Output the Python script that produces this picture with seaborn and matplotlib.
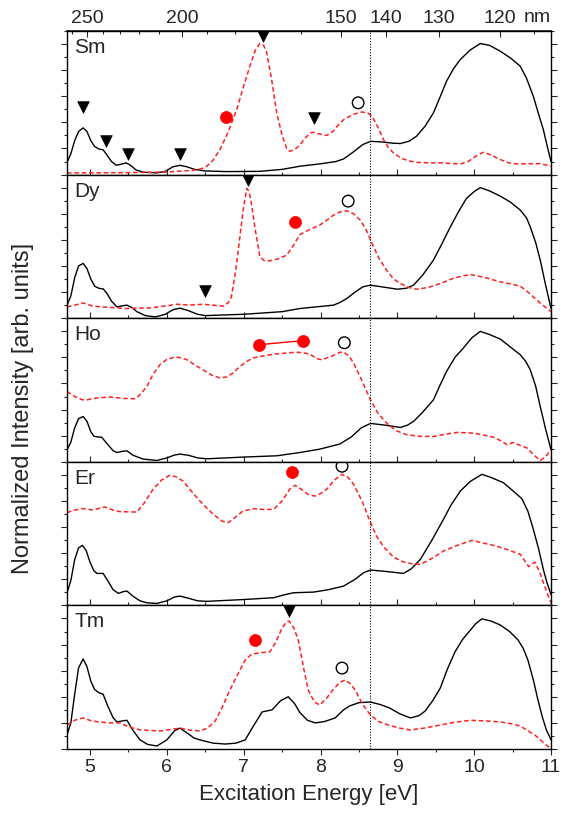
import numpy as np
import pandas as pd
import matplotlib
matplotlib.use("Agg")
import matplotlib.pyplot as plt
import seaborn as sns
from matplotlib.ticker import MultipleLocator, FixedLocator

sns.set_theme(style="ticks")
plt.rcParams['font.family'] = ['Liberation Sans', 'DejaVu Sans']

# ---------------- data ----------------
elements = ["Sm", "Dy", "Ho", "Er", "Tm"]

sm_black_x = [4.70, 4.75, 4.80, 4.85, 4.91, 4.96, 5.01, 5.06, 5.12, 5.17, 5.22, 5.28, 5.34, 5.41, 5.47, 5.53, 5.60, 5.70, 5.87, 5.98, 6.08, 6.17, 6.26, 6.36, 6.50, 6.78, 7.21, 7.50, 7.73, 7.99, 8.20, 8.30, 8.42, 8.55, 8.65, 8.80, 8.95, 9.04, 9.15, 9.25, 9.36, 9.47, 9.56, 9.64, 9.73, 9.82, 9.95, 10.08, 10.20, 10.34, 10.48, 10.60, 10.68, 10.77, 10.84, 10.90, 10.95, 11.00]
sm_black_y = [0.092, 0.160, 0.260, 0.330, 0.358, 0.330, 0.260, 0.215, 0.195, 0.190, 0.150, 0.100, 0.072, 0.080, 0.090, 0.070, 0.035, 0.018, 0.013, 0.025, 0.060, 0.071, 0.060, 0.040, 0.028, 0.023, 0.025, 0.040, 0.064, 0.082, 0.100, 0.120, 0.170, 0.230, 0.255, 0.250, 0.240, 0.238, 0.255, 0.294, 0.370, 0.473, 0.600, 0.715, 0.810, 0.882, 0.955, 1.004, 0.990, 0.945, 0.890, 0.830, 0.740, 0.600, 0.460, 0.345, 0.220, 0.100]
sm_red_x = [4.70, 5.50, 6.00, 6.34, 6.45, 6.52, 6.60, 6.69, 6.80, 6.91, 7.00, 7.08, 7.15, 7.21, 7.26, 7.30, 7.36, 7.43, 7.50, 7.56, 7.60, 7.66, 7.73, 7.80, 7.87, 7.91, 7.99, 8.08, 8.16, 8.23, 8.30, 8.42, 8.54, 8.62, 8.67, 8.75, 8.82, 8.88, 8.95, 9.05, 9.15, 9.25, 9.40, 9.56, 9.70, 9.82, 9.92, 10.02, 10.12, 10.22, 10.34, 10.45, 10.56, 10.86, 11.00]
sm_red_y = [0.013, 0.015, 0.020, 0.033, 0.045, 0.064, 0.110, 0.190, 0.330, 0.500, 0.680, 0.830, 0.950, 1.004, 0.990, 0.933, 0.740, 0.473, 0.300, 0.200, 0.179, 0.190, 0.225, 0.280, 0.320, 0.324, 0.310, 0.300, 0.330, 0.380, 0.420, 0.460, 0.480, 0.470, 0.447, 0.360, 0.268, 0.210, 0.166, 0.125, 0.105, 0.094, 0.090, 0.090, 0.085, 0.082, 0.100, 0.140, 0.171, 0.150, 0.115, 0.090, 0.082, 0.084, 0.064]

dy_black_x = [4.70, 4.75, 4.80, 4.85, 4.91, 4.96, 5.01, 5.06, 5.12, 5.17, 5.22, 5.28, 5.35, 5.42, 5.48, 5.55, 5.61, 5.72, 5.85, 5.98, 6.08, 6.17, 6.27, 6.40, 6.50, 7.00, 7.50, 7.73, 8.00, 8.17, 8.25, 8.34, 8.45, 8.55, 8.65, 8.80, 9.00, 9.12, 9.21, 9.33, 9.47, 9.58, 9.69, 9.80, 9.90, 10.00, 10.08, 10.20, 10.34, 10.47, 10.60, 10.68, 10.73, 10.80, 10.86, 10.92, 11.00]
dy_black_y = [0.100, 0.170, 0.310, 0.400, 0.420, 0.380, 0.300, 0.245, 0.228, 0.225, 0.190, 0.130, 0.087, 0.095, 0.100, 0.080, 0.050, 0.020, 0.010, 0.030, 0.065, 0.077, 0.060, 0.030, 0.020, 0.030, 0.050, 0.074, 0.090, 0.100, 0.120, 0.150, 0.200, 0.240, 0.253, 0.240, 0.222, 0.230, 0.253, 0.330, 0.445, 0.570, 0.700, 0.820, 0.918, 0.970, 1.000, 0.975, 0.935, 0.890, 0.828, 0.770, 0.700, 0.580, 0.445, 0.280, 0.074]
dy_red_x = [4.70, 4.80, 4.91, 5.04, 5.20, 5.48, 5.78, 6.00, 6.13, 6.30, 6.47, 6.60, 6.74, 6.80, 6.84, 6.90, 6.95, 7.00, 7.04, 7.07, 7.10, 7.15, 7.21, 7.27, 7.34, 7.45, 7.56, 7.65, 7.73, 7.86, 7.99, 8.08, 8.17, 8.26, 8.34, 8.43, 8.52, 8.60, 8.67, 8.76, 8.86, 8.95, 9.04, 9.15, 9.25, 9.40, 9.56, 9.75, 9.95, 10.15, 10.34, 10.50, 10.60, 10.70, 10.77, 10.87, 10.95, 11.00]
dy_red_y = [0.087, 0.100, 0.117, 0.092, 0.085, 0.074, 0.079, 0.095, 0.107, 0.100, 0.107, 0.100, 0.092, 0.120, 0.163, 0.380, 0.623, 0.860, 0.994, 0.970, 0.879, 0.680, 0.470, 0.440, 0.440, 0.455, 0.483, 0.560, 0.640, 0.680, 0.713, 0.750, 0.790, 0.815, 0.823, 0.800, 0.750, 0.670, 0.573, 0.460, 0.368, 0.300, 0.266, 0.235, 0.222, 0.235, 0.266, 0.310, 0.335, 0.310, 0.278, 0.260, 0.245, 0.200, 0.163, 0.110, 0.074, 0.050]

ho_black_x = [4.70, 4.75, 4.80, 4.85, 4.91, 4.96, 5.01, 5.05, 5.10, 5.15, 5.22, 5.30, 5.35, 5.42, 5.48, 5.56, 5.69, 5.87, 6.00, 6.10, 6.17, 6.28, 6.40, 6.52, 6.99, 7.43, 7.73, 7.99, 8.25, 8.40, 8.53, 8.65, 8.85, 9.04, 9.13, 9.21, 9.33, 9.47, 9.55, 9.64, 9.75, 9.86, 9.97, 10.08, 10.20, 10.34, 10.47, 10.60, 10.67, 10.73, 10.80, 10.86, 10.93, 11.00]
ho_black_y = [0.092, 0.150, 0.260, 0.330, 0.347, 0.310, 0.230, 0.196, 0.190, 0.189, 0.140, 0.085, 0.071, 0.080, 0.084, 0.050, 0.021, 0.010, 0.030, 0.052, 0.059, 0.050, 0.030, 0.023, 0.036, 0.046, 0.071, 0.097, 0.136, 0.190, 0.260, 0.294, 0.280, 0.263, 0.280, 0.309, 0.380, 0.475, 0.580, 0.692, 0.800, 0.872, 0.950, 0.999, 0.975, 0.940, 0.880, 0.820, 0.770, 0.705, 0.580, 0.424, 0.250, 0.092]
ho_red_x = [4.70, 4.80, 4.90, 4.96, 5.10, 5.26, 5.45, 5.59, 5.66, 5.74, 5.82, 5.91, 6.00, 6.11, 6.20, 6.26, 6.37, 6.47, 6.58, 6.69, 6.78, 6.86, 6.95, 7.04, 7.12, 7.21, 7.40, 7.65, 7.73, 7.86, 7.95, 8.02, 8.15, 8.25, 8.30, 8.37, 8.43, 8.54, 8.65, 8.75, 8.86, 8.98, 9.12, 9.30, 9.47, 9.62, 9.77, 9.99, 10.12, 10.25, 10.35, 10.43, 10.51, 10.60, 10.69, 10.78, 10.86, 10.93, 11.00]
ho_red_y = [0.539, 0.500, 0.475, 0.475, 0.490, 0.496, 0.485, 0.483, 0.520, 0.577, 0.670, 0.744, 0.785, 0.803, 0.795, 0.782, 0.740, 0.705, 0.665, 0.642, 0.650, 0.680, 0.730, 0.769, 0.795, 0.807, 0.825, 0.838, 0.838, 0.826, 0.790, 0.782, 0.810, 0.838, 0.841, 0.810, 0.757, 0.620, 0.475, 0.370, 0.297, 0.240, 0.207, 0.195, 0.194, 0.210, 0.225, 0.220, 0.205, 0.189, 0.160, 0.130, 0.148, 0.125, 0.105, 0.050, 0.010, 0.040, 0.092]

er_black_x = [4.70, 4.75, 4.80, 4.85, 4.90, 4.95, 5.00, 5.05, 5.09, 5.17, 5.23, 5.30, 5.37, 5.43, 5.48, 5.56, 5.65, 5.74, 5.87, 6.00, 6.10, 6.17, 6.28, 6.40, 6.52, 7.00, 7.39, 7.52, 7.65, 7.91, 8.10, 8.30, 8.45, 8.56, 8.65, 8.85, 9.08, 9.18, 9.30, 9.45, 9.60, 9.70, 9.82, 9.95, 10.10, 10.22, 10.38, 10.50, 10.62, 10.70, 10.77, 10.84, 10.90, 10.95, 11.00]
er_black_y = [0.097, 0.190, 0.350, 0.440, 0.460, 0.420, 0.330, 0.265, 0.245, 0.245, 0.190, 0.120, 0.092, 0.105, 0.110, 0.070, 0.035, 0.020, 0.015, 0.035, 0.065, 0.071, 0.055, 0.035, 0.031, 0.045, 0.059, 0.080, 0.097, 0.102, 0.120, 0.148, 0.200, 0.250, 0.271, 0.260, 0.245, 0.280, 0.353, 0.500, 0.659, 0.770, 0.876, 0.950, 1.004, 0.980, 0.940, 0.880, 0.818, 0.720, 0.583, 0.430, 0.276, 0.170, 0.084]
er_red_x = [4.70, 4.80, 4.91, 5.04, 5.19, 5.30, 5.39, 5.61, 5.70, 5.82, 5.93, 6.04, 6.12, 6.21, 6.34, 6.47, 6.60, 6.72, 6.80, 6.88, 6.99, 7.13, 7.25, 7.39, 7.50, 7.60, 7.67, 7.75, 7.85, 7.93, 8.01, 8.08, 8.18, 8.28, 8.36, 8.43, 8.54, 8.65, 8.73, 8.82, 8.95, 9.08, 9.20, 9.30, 9.45, 9.60, 9.78, 9.97, 10.10, 10.25, 10.42, 10.60, 10.71, 10.79, 10.85, 10.90, 10.96, 11.00]
er_red_y = [0.711, 0.730, 0.741, 0.731, 0.754, 0.730, 0.718, 0.715, 0.780, 0.889, 0.960, 0.997, 0.985, 0.953, 0.860, 0.774, 0.700, 0.645, 0.634, 0.670, 0.723, 0.741, 0.735, 0.736, 0.800, 0.890, 0.920, 0.890, 0.845, 0.838, 0.860, 0.889, 0.960, 1.004, 0.980, 0.928, 0.800, 0.634, 0.530, 0.450, 0.370, 0.332, 0.318, 0.314, 0.360, 0.416, 0.460, 0.498, 0.480, 0.460, 0.430, 0.391, 0.297, 0.332, 0.260, 0.174, 0.080, 0.020]

tm_black_x = [4.70, 4.75, 4.80, 4.85, 4.91, 4.96, 5.01, 5.06, 5.12, 5.17, 5.23, 5.30, 5.35, 5.42, 5.48, 5.55, 5.65, 5.75, 5.87, 6.00, 6.10, 6.17, 6.27, 6.35, 6.43, 6.60, 6.76, 6.90, 7.02, 7.12, 7.24, 7.37, 7.48, 7.58, 7.66, 7.73, 7.83, 7.93, 8.05, 8.19, 8.30, 8.38, 8.50, 8.65, 8.78, 8.90, 9.03, 9.17, 9.28, 9.36, 9.46, 9.56, 9.65, 9.75, 9.85, 9.95, 10.02, 10.10, 10.22, 10.34, 10.46, 10.57, 10.64, 10.70, 10.77, 10.83, 10.89, 10.94, 11.00]
tm_black_y = [0.107, 0.200, 0.420, 0.620, 0.690, 0.630, 0.520, 0.455, 0.430, 0.420, 0.330, 0.240, 0.207, 0.215, 0.220, 0.150, 0.070, 0.035, 0.023, 0.070, 0.140, 0.160, 0.120, 0.085, 0.070, 0.045, 0.038, 0.045, 0.070, 0.170, 0.284, 0.300, 0.370, 0.400, 0.350, 0.280, 0.220, 0.200, 0.210, 0.238, 0.300, 0.330, 0.355, 0.360, 0.340, 0.314, 0.270, 0.238, 0.255, 0.290, 0.370, 0.468, 0.610, 0.744, 0.840, 0.910, 0.960, 0.997, 0.980, 0.950, 0.900, 0.836, 0.770, 0.680, 0.530, 0.376, 0.240, 0.146, 0.070]
tm_red_x = [4.70, 4.80, 4.91, 5.02, 5.13, 5.25, 5.39, 5.50, 5.65, 5.91, 6.05, 6.17, 6.30, 6.43, 6.53, 6.63, 6.72, 6.82, 6.92, 7.02, 7.10, 7.19, 7.27, 7.34, 7.42, 7.50, 7.56, 7.59, 7.65, 7.71, 7.78, 7.84, 7.92, 7.99, 8.08, 8.16, 8.25, 8.32, 8.39, 8.45, 8.55, 8.65, 8.76, 8.88, 9.03, 9.17, 9.35, 9.56, 9.75, 9.95, 10.15, 10.34, 10.47, 10.60, 10.70, 10.79, 10.90, 11.00]
tm_red_y = [0.184, 0.220, 0.238, 0.215, 0.207, 0.200, 0.200, 0.170, 0.146, 0.138, 0.150, 0.160, 0.145, 0.138, 0.160, 0.215, 0.320, 0.452, 0.570, 0.682, 0.725, 0.736, 0.740, 0.744, 0.820, 0.928, 0.975, 0.980, 0.930, 0.836, 0.620, 0.452, 0.360, 0.337, 0.390, 0.452, 0.510, 0.529, 0.500, 0.452, 0.340, 0.260, 0.210, 0.184, 0.160, 0.146, 0.160, 0.184, 0.205, 0.220, 0.215, 0.207, 0.195, 0.176, 0.140, 0.107, 0.050, 0.000]

# markers: down triangles (black), red filled circles, open circles
tri_x = {"Sm": [4.91, 5.21, 5.49, 6.17, 7.25, 7.92], "Dy": [7.06, 6.50], "Ho": [], "Er": [], "Tm": [7.59]}
tri_y = {"Sm": [0.514, 0.260, 0.160, 0.160, 1.058, 0.430], "Dy": [1.058, 0.207], "Ho": [], "Er": [], "Tm": [1.058]}
red_x = {"Sm": [6.77], "Dy": [7.67], "Ho": [7.20, 7.77], "Er": [7.63], "Tm": [7.15]}
red_y = {"Sm": [0.445], "Dy": [0.736], "Ho": [0.897, 0.928], "Er": [1.020], "Tm": [0.836]}
open_x = {"Sm": [8.49], "Dy": [8.36], "Ho": [8.31], "Er": [8.28], "Tm": [8.28]}
open_y = {"Sm": [0.550], "Dy": [0.897], "Ho": [0.912], "Er": [1.066], "Tm": [0.620]}

nm_ticks = [250, 200, 150, 140, 130, 120]
nm_minor = [260, 240, 230, 220, 210, 190, 180, 170, 160, 115, 110]
vline_ev = 8.65

black = {"Sm": (sm_black_x, sm_black_y), "Dy": (dy_black_x, dy_black_y), "Ho": (ho_black_x, ho_black_y),
         "Er": (er_black_x, er_black_y), "Tm": (tm_black_x, tm_black_y)}
red = {"Sm": (sm_red_x, sm_red_y), "Dy": (dy_red_x, dy_red_y), "Ho": (ho_red_x, ho_red_y),
       "Er": (er_red_x, er_red_y), "Tm": (tm_red_x, tm_red_y)}

# ---------------- figure ----------------
fig = plt.figure(figsize=(5.72, 8.16), dpi=100)
left, right, top, bottom = 67 / 572, 551 / 572, 1 - 31 / 816, 1 - 749 / 816
gs = fig.add_gridspec(5, 1, left=left, right=right, top=top, bottom=bottom, hspace=0)
axes = [fig.add_subplot(gs[i]) for i in range(5)]

for i, (ax, el) in enumerate(zip(axes, elements)):
    bx, by = black[el]
    rx, ry = red[el]
    sns.lineplot(x=bx, y=by, ax=ax, color="black", lw=1.0, sort=False, estimator=None)
    sns.lineplot(x=rx, y=ry, ax=ax, color="#ff2020", lw=1.1, sort=False, estimator=None,
                 linestyle=(0, (3, 1.8)))
    ax.axvline(vline_ev, color="black", lw=0.8, ls=(0, (1, 1.5)))
    if tri_x[el]:
        sns.scatterplot(x=tri_x[el], y=tri_y[el], ax=ax, marker="v", s=70, color="black",
                        edgecolor="black", linewidth=0.5, zorder=5)
    if el == "Ho":
        sns.lineplot(x=red_x[el], y=red_y[el], ax=ax, color="red", lw=1.0, sort=False, estimator=None)
    sns.scatterplot(x=red_x[el], y=red_y[el], ax=ax, marker="o", s=75, color="red",
                    edgecolor="red", linewidth=0.5, zorder=5)
    sns.scatterplot(x=open_x[el], y=open_y[el], ax=ax, marker="o", s=70, facecolor="none",
                    edgecolor="black", linewidth=1.0, zorder=5)
    ax.set_xlim(4.7, 11.0)
    ax.set_ylim(0, 1.1)
    ax.yaxis.set_major_locator(MultipleLocator(0.2))
    ax.yaxis.set_minor_locator(MultipleLocator(0.1))
    ax.xaxis.set_major_locator(MultipleLocator(1))
    ax.xaxis.set_minor_locator(MultipleLocator(0.5))
    ax.tick_params(axis="y", which="both", left=True, right=True, direction="out",
                   labelleft=False, labelright=False)
    ax.tick_params(axis="y", which="major", length=4, width=0.8)
    ax.tick_params(axis="y", which="minor", length=2.5, width=0.8)
    if i < 4:
        ax.tick_params(axis="x", which="both", direction="inout", labelbottom=False)
        ax.tick_params(axis="x", which="major", length=8, width=0.8)
        ax.tick_params(axis="x", which="minor", length=5, width=0.8)
    else:
        ax.tick_params(axis="x", which="both", direction="out", labelsize=14, pad=3)
        ax.tick_params(axis="x", which="major", length=4, width=0.8)
        ax.tick_params(axis="x", which="minor", length=2.5, width=0.8)
    for sp in ax.spines.values():
        sp.set_linewidth(1.0)
        sp.set_color("black")
    ax.text(0.015, 0.885, el, transform=ax.transAxes, fontsize=15, va="center", ha="left")

# top nm axis
sec = axes[0].secondary_xaxis("top", functions=(lambda e: 1239.84 / e, lambda nm: 1239.84 / nm))
sec.xaxis.set_major_locator(FixedLocator(nm_ticks))
sec.xaxis.set_minor_locator(FixedLocator(nm_minor))
sec.set_xticklabels([str(t) for t in nm_ticks])
sec.tick_params(axis="x", which="both", direction="in", labelsize=14, pad=3)
sec.tick_params(axis="x", which="major", length=4, width=0.8)
sec.tick_params(axis="x", which="minor", length=2.5, width=0.8)
axes[0].text(10.82, 1.035, "nm", transform=axes[0].get_xaxis_transform(), fontsize=14,
             ha="center", va="bottom")

fig.text(0.5 * (left + right), 0.026, "Excitation Energy [eV]", ha="center", va="center", fontsize=16)
fig.text(0.040, 0.5, "Normalized Intensity [arb. units]", ha="center", va="center",
         rotation=90, fontsize=17)

fig.savefig("out.png", dpi=100)
